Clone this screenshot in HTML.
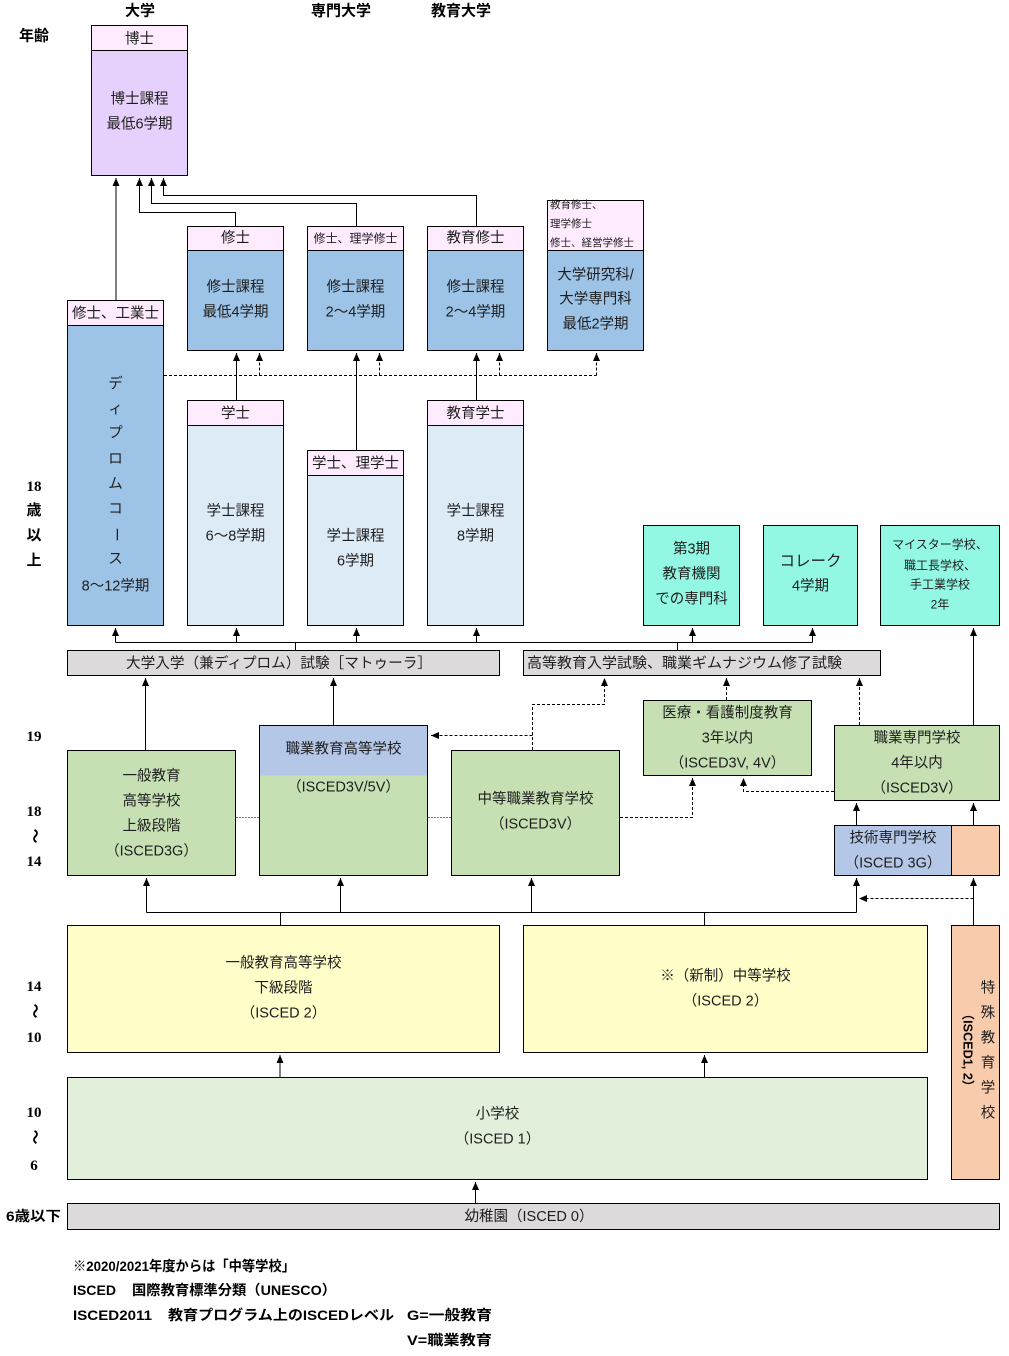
<!DOCTYPE html>
<html><head><meta charset="utf-8">
<style>
html,body{margin:0;padding:0;background:#fff;}
svg{display:block;}
text{font-family:"Liberation Sans","Noto Sans CJK JP",sans-serif;fill:#1e1e1e;}
.t{font-size:14.5px;text-anchor:middle;dominant-baseline:central;transform:translateY(1.5px);}
.tr{font-size:14.5px;text-anchor:middle;dominant-baseline:central;}
.s{font-size:12px;text-anchor:middle;dominant-baseline:central;transform:translateY(1.5px);}
.xs{font-size:10.5px;dominant-baseline:central;}
.h{font-size:15px;font-weight:bold;fill:#000;text-anchor:middle;dominant-baseline:central;font-family:"Liberation Sans","Noto Sans CJK JP",sans-serif;}
.age{font-size:15px;font-weight:bold;fill:#000;text-anchor:middle;dominant-baseline:central;font-family:"Liberation Serif","Noto Sans CJK JP",serif;}
.n{font-size:14px;font-weight:bold;fill:#000;dominant-baseline:central;}
.ln{stroke:#000;stroke-width:1;fill:none;}
.dl{stroke:#000;stroke-width:1;fill:none;stroke-dasharray:3,2;}
.gl{stroke:#777;stroke-width:1;fill:none;stroke-dasharray:2,1;}
.bx{stroke:#000;stroke-width:1;}
</style></head><body>
<svg width="1009" height="1356" viewBox="0 0 1009 1356" xmlns="http://www.w3.org/2000/svg">
<defs>
<marker id="ah" viewBox="0 0 8 7" refX="8" refY="3.5" markerWidth="8" markerHeight="7" orient="auto" markerUnits="userSpaceOnUse">
<path d="M0,0 L8,3.5 L0,7 z" fill="#000"/>
</marker>
</defs>

<!-- column headers -->
<text class="h" x="140" y="11">大学</text>
<text class="h" x="341" y="11">専門大学</text>
<text class="h" x="461" y="11">教育大学</text>
<text class="h" x="34" y="36">年齢</text>

<!-- Doctoral -->
<rect class="bx" x="91.5" y="25.5" width="96" height="150" fill="#E5D1FB"/>
<rect class="bx" x="91.5" y="25.5" width="96" height="25" fill="#FEEBFE"/>
<text class="t" x="139.5" y="38">博士</text>
<text class="t" x="139.5" y="98">博士課程</text>
<text class="t" x="139.5" y="123">最低6学期</text>

<!-- connectors to doctoral -->
<line class="ln" x1="116" y1="300" x2="116" y2="178" marker-end="url(#ah)"/>
<polyline class="ln" points="235.5,226 235.5,212.5 139.5,212.5 139.5,178" marker-end="url(#ah)"/>
<polyline class="ln" points="356.5,226 356.5,203.5 151.5,203.5 151.5,178" marker-end="url(#ah)"/>
<polyline class="ln" points="476.5,226 476.5,195.5 163.5,195.5 163.5,178" marker-end="url(#ah)"/>

<!-- Diploma -->
<rect class="bx" x="67.5" y="300.5" width="96" height="325" fill="#9DC3E6"/>
<rect class="bx" x="67.5" y="300.5" width="96" height="25" fill="#FEEBFE"/>
<text class="t" x="115.5" y="312.5">修士、工業士</text>
<text class="t" x="115.5" y="383">デ</text>
<text class="t" x="115.5" y="408">ィ</text>
<text class="t" x="115.5" y="432">プ</text>
<text class="t" x="115.5" y="458">ロ</text>
<text class="t" x="115.5" y="483">ム</text>
<text class="t" x="115.5" y="508">コ</text>
<text class="tr" x="115.5" y="534.5" transform="rotate(90 115.5 534.5)">ー</text>
<text class="t" x="115.5" y="558">ス</text>
<text class="t" x="115.5" y="585">8～12学期</text>

<!-- Master boxes -->
<rect class="bx" x="187.5" y="226.5" width="96" height="124" fill="#9DC3E6"/>
<rect class="bx" x="187.5" y="226.5" width="96" height="24" fill="#FEEBFE"/>
<text class="t" x="235.5" y="237">修士</text>
<text class="t" x="235.5" y="286">修士課程</text>
<text class="t" x="235.5" y="311">最低4学期</text>

<rect class="bx" x="307.5" y="226.5" width="96" height="124" fill="#9DC3E6"/>
<rect class="bx" x="307.5" y="226.5" width="96" height="24" fill="#FEEBFE"/>
<text class="s" x="355.5" y="237">修士、理学修士</text>
<text class="t" x="355.5" y="286">修士課程</text>
<text class="t" x="355.5" y="311">2～4学期</text>

<rect class="bx" x="427.5" y="226.5" width="96" height="124" fill="#9DC3E6"/>
<rect class="bx" x="427.5" y="226.5" width="96" height="24" fill="#FEEBFE"/>
<text class="t" x="475.5" y="237">教育修士</text>
<text class="t" x="475.5" y="286">修士課程</text>
<text class="t" x="475.5" y="311">2～4学期</text>

<rect class="bx" x="547.5" y="200.5" width="96" height="150" fill="#9DC3E6"/>
<rect class="bx" x="547.5" y="200.5" width="96" height="50" fill="#FEEBFE"/>
<text class="xs" x="550" y="205">教育修士、</text>
<text class="xs" x="550" y="224">理学修士</text>
<text class="xs" x="550" y="243">修士、経営学修士</text>
<text class="t" x="595.5" y="274">大学研究科/</text>
<text class="t" x="595.5" y="298">大学専門科</text>
<text class="t" x="595.5" y="323">最低2学期</text>

<!-- dashed from diploma -->
<line class="dl" x1="164" y1="375.5" x2="596.5" y2="375.5"/>
<line class="dl" x1="259.5" y1="375.5" x2="259.5" y2="353" marker-end="url(#ah)"/>
<line class="dl" x1="379.5" y1="375.5" x2="379.5" y2="353" marker-end="url(#ah)"/>
<line class="dl" x1="499.5" y1="375.5" x2="499.5" y2="353" marker-end="url(#ah)"/>
<line class="dl" x1="596.5" y1="375.5" x2="596.5" y2="353" marker-end="url(#ah)"/>

<!-- bachelor to master -->
<line class="ln" x1="236.5" y1="400" x2="236.5" y2="353" marker-end="url(#ah)"/>
<line class="ln" x1="356.5" y1="450" x2="356.5" y2="353" marker-end="url(#ah)"/>
<line class="ln" x1="476.5" y1="400" x2="476.5" y2="353" marker-end="url(#ah)"/>

<!-- Bachelor boxes -->
<rect class="bx" x="187.5" y="400.5" width="96" height="225" fill="#DDEBF7"/>
<rect class="bx" x="187.5" y="400.5" width="96" height="25" fill="#FEEBFE"/>
<text class="t" x="235.5" y="412.5">学士</text>
<text class="t" x="235.5" y="510">学士課程</text>
<text class="t" x="235.5" y="535">6～8学期</text>

<rect class="bx" x="307.5" y="450.5" width="96" height="175" fill="#DDEBF7"/>
<rect class="bx" x="307.5" y="450.5" width="96" height="25" fill="#FEEBFE"/>
<text class="t" x="355.5" y="462.5">学士、理学士</text>
<text class="t" x="355.5" y="535">学士課程</text>
<text class="t" x="355.5" y="560">6学期</text>

<rect class="bx" x="427.5" y="400.5" width="96" height="225" fill="#DDEBF7"/>
<rect class="bx" x="427.5" y="400.5" width="96" height="25" fill="#FEEBFE"/>
<text class="t" x="475.5" y="412.5">教育学士</text>
<text class="t" x="475.5" y="510">学士課程</text>
<text class="t" x="475.5" y="535">8学期</text>

<!-- Turquoise boxes -->
<rect class="bx" x="643.5" y="525.5" width="96" height="100" fill="#92F8E3"/>
<text class="t" x="691.5" y="548">第3期</text>
<text class="t" x="691.5" y="573">教育機関</text>
<text class="t" x="691.5" y="598">での専門科</text>

<rect class="bx" x="763.5" y="525.5" width="94" height="100" fill="#92F8E3"/>
<text class="t" x="810.5" y="560" style="font-size:15.5px">コレーク</text>
<text class="t" x="810.5" y="585">4学期</text>

<rect class="bx" x="880.5" y="525.5" width="119" height="100" fill="#92F8E3"/>
<text class="s" x="940" y="543">マイスター学校、</text>
<text class="s" x="940" y="564">職工長学校、</text>
<text class="s" x="940" y="583">手工業学校</text>
<text class="s" x="940" y="603">2年</text>

<!-- exam distribution line -->
<line class="ln" x1="115.5" y1="642.5" x2="812.5" y2="642.5"/>
<line class="ln" x1="115.5" y1="642.5" x2="115.5" y2="628" marker-end="url(#ah)"/>
<line class="ln" x1="236.5" y1="642.5" x2="236.5" y2="628" marker-end="url(#ah)"/>
<line class="ln" x1="356.5" y1="642.5" x2="356.5" y2="628" marker-end="url(#ah)"/>
<line class="ln" x1="476.5" y1="642.5" x2="476.5" y2="628" marker-end="url(#ah)"/>
<line class="ln" x1="692.5" y1="642.5" x2="692.5" y2="628" marker-end="url(#ah)"/>
<line class="ln" x1="812.5" y1="642.5" x2="812.5" y2="628" marker-end="url(#ah)"/>
<line class="ln" x1="295.5" y1="642.5" x2="295.5" y2="650"/>
<line class="ln" x1="677.5" y1="642.5" x2="677.5" y2="650"/>

<!-- Exams -->
<rect class="bx" x="67.5" y="650.5" width="432" height="25" fill="#DCDADA"/>
<text x="126" y="664" style="font-size:14.5px;dominant-baseline:central" textLength="306" lengthAdjust="spacingAndGlyphs">大学入学（兼ディプロム）試験［マトゥーラ］</text>
<rect class="bx" x="523.5" y="650.5" width="357" height="25" fill="#DCDADA"/>
<text x="527" y="664" style="font-size:14.5px;dominant-baseline:central" textLength="315" lengthAdjust="spacingAndGlyphs">高等教育入学試験、職業ギムナジウム修了試験</text>

<!-- arrows to exams -->
<line class="ln" x1="145.5" y1="750" x2="145.5" y2="678" marker-end="url(#ah)"/>
<line class="ln" x1="333.5" y1="725" x2="333.5" y2="678" marker-end="url(#ah)"/>
<polyline class="dl" points="532.5,750 532.5,704.5 604.5,704.5 604.5,678" marker-end="url(#ah)"/>
<line class="dl" x1="532.5" y1="735.5" x2="431" y2="735.5" marker-end="url(#ah)"/>
<line class="dl" x1="726.5" y1="700" x2="726.5" y2="678" marker-end="url(#ah)"/>
<line class="dl" x1="859.5" y1="725" x2="859.5" y2="678" marker-end="url(#ah)"/>
<line class="ln" x1="973.5" y1="725" x2="973.5" y2="628" marker-end="url(#ah)"/>

<!-- Upper secondary -->
<rect class="bx" x="643.5" y="700.5" width="168" height="75" fill="#C6E0B4"/>
<text class="t" x="727.5" y="712">医療・看護制度教育</text>
<text class="t" x="727.5" y="737">3年以内</text>
<text class="t" x="727.5" y="762">（ISCED3V, 4V）</text>

<rect class="bx" x="834.5" y="725.5" width="165" height="75" fill="#C6E0B4"/>
<text class="t" x="917" y="737">職業専門学校</text>
<text class="t" x="917" y="762">4年以内</text>
<text class="t" x="917" y="787">（ISCED3V）</text>

<rect class="bx" x="67.5" y="750.5" width="168" height="125" fill="#C6E0B4"/>
<text class="t" x="151.5" y="775">一般教育</text>
<text class="t" x="151.5" y="800">高等学校</text>
<text class="t" x="151.5" y="825">上級段階</text>
<text class="t" x="151.5" y="850">（ISCED3G）</text>

<rect x="259.5" y="725.5" width="168" height="150" fill="#C6E0B4"/>
<rect x="259.5" y="725.5" width="168" height="50" fill="#B4C7E7"/>
<rect class="bx" x="259.5" y="725.5" width="168" height="150" fill="none"/>
<text class="t" x="343.5" y="748">職業教育高等学校</text>
<text class="t" x="343.5" y="786">（ISCED3V/5V）</text>

<rect class="bx" x="451.5" y="750.5" width="168" height="125" fill="#C6E0B4"/>
<text class="t" x="535.5" y="798">中等職業教育学校</text>
<text class="t" x="535.5" y="823">（ISCED3V）</text>

<!-- dotted links between boxes -->
<line class="gl" x1="236" y1="817.5" x2="259" y2="817.5"/>
<line class="gl" x1="428" y1="817.5" x2="451" y2="817.5"/>
<polyline class="dl" points="620,817.5 692.5,817.5 692.5,778" marker-end="url(#ah)"/>
<polyline class="dl" points="834,791.5 743.5,791.5 743.5,778" marker-end="url(#ah)"/>

<!-- Technical school -->
<rect class="bx" x="834.5" y="825.5" width="117" height="50" fill="#B4C7E7"/>
<rect class="bx" x="951.5" y="825.5" width="48" height="50" fill="#F8CBAD"/>
<text class="t" x="893" y="837">技術専門学校</text>
<text class="t" x="893" y="862">（ISCED 3G）</text>
<line class="ln" x1="856.5" y1="825" x2="856.5" y2="803" marker-end="url(#ah)"/>
<line class="ln" x1="973.5" y1="825" x2="973.5" y2="803" marker-end="url(#ah)"/>

<!-- lower distribution line -->
<line class="ln" x1="146.5" y1="912.5" x2="856.5" y2="912.5"/>
<line class="ln" x1="146.5" y1="912.5" x2="146.5" y2="878" marker-end="url(#ah)"/>
<line class="ln" x1="340.5" y1="912.5" x2="340.5" y2="878" marker-end="url(#ah)"/>
<line class="ln" x1="531.5" y1="912.5" x2="531.5" y2="878" marker-end="url(#ah)"/>
<line class="ln" x1="856.5" y1="912.5" x2="856.5" y2="878" marker-end="url(#ah)"/>
<line class="ln" x1="280.5" y1="912.5" x2="280.5" y2="925"/>
<line class="ln" x1="704.5" y1="912.5" x2="704.5" y2="925"/>
<line class="ln" x1="973.5" y1="925" x2="973.5" y2="878" marker-end="url(#ah)"/>
<line class="dl" x1="973.5" y1="898.5" x2="859" y2="898.5" marker-end="url(#ah)"/>

<!-- Lower secondary -->
<rect class="bx" x="67.5" y="925.5" width="432" height="127" fill="#FFFDC8"/>
<text class="t" x="283.5" y="962">一般教育高等学校</text>
<text class="t" x="283.5" y="987">下級段階</text>
<text class="t" x="283.5" y="1012">（ISCED 2）</text>

<rect class="bx" x="523.5" y="925.5" width="404" height="127" fill="#FFFDC8"/>
<text class="t" x="725.5" y="975">※（新制）中等学校</text>
<text class="t" x="725.5" y="1000">（ISCED 2）</text>

<!-- Special school -->
<rect class="bx" x="951.5" y="925.5" width="48" height="254" fill="#F8CBAD"/>
<text class="t" x="988" y="987">特</text>
<text class="t" x="988" y="1012">殊</text>
<text class="t" x="988" y="1037">教</text>
<text class="t" x="988" y="1062">育</text>
<text class="t" x="988" y="1087">学</text>
<text class="t" x="988" y="1112">校</text>
<text x="968" y="1050" transform="rotate(90 968 1050)" style="font-size:13px;font-weight:bold;fill:#000;text-anchor:middle;dominant-baseline:central" textLength="85" lengthAdjust="spacingAndGlyphs">（ISCED1, 2）</text>

<!-- Primary -->
<line class="ln" x1="280" y1="1077" x2="280" y2="1055" marker-end="url(#ah)"/>
<line class="ln" x1="704.5" y1="1077" x2="704.5" y2="1055" marker-end="url(#ah)"/>
<rect class="bx" x="67.5" y="1077.5" width="860" height="102" fill="#E2EFDA"/>
<text class="t" x="497.5" y="1113">小学校</text>
<text class="t" x="497.5" y="1138">（ISCED 1）</text>

<!-- Kindergarten -->
<line class="ln" x1="475.5" y1="1203" x2="475.5" y2="1182" marker-end="url(#ah)"/>
<rect class="bx" x="67.5" y="1203.5" width="932" height="26" fill="#DCDADA"/>
<text class="t" x="529" y="1215.5">幼稚園（ISCED 0）</text>

<!-- Age labels -->
<text class="age" x="34" y="487">18</text>
<text class="age" x="34" y="511">歳</text>
<text class="age" x="34" y="536">以</text>
<text class="age" x="34" y="561">上</text>

<text class="age" x="34" y="737">19</text>
<text class="age" x="34" y="812">18</text>
<text class="age" x="34" y="836" transform="rotate(90 34 836)">～</text>
<text class="age" x="34" y="862">14</text>

<text class="age" x="34" y="987">14</text>
<text class="age" x="34" y="1011" transform="rotate(90 34 1011)">～</text>
<text class="age" x="34" y="1038">10</text>

<text class="age" x="34" y="1113">10</text>
<text class="age" x="34" y="1137" transform="rotate(90 34 1137)">～</text>
<text class="age" x="34" y="1166">6</text>

<text class="n" x="6" y="1216" textLength="55" lengthAdjust="spacingAndGlyphs">6歳以下</text>

<!-- Notes -->
<text class="n" x="73" y="1266" textLength="222" lengthAdjust="spacingAndGlyphs">※2020/2021年度からは「中等学校」</text>
<text class="n" x="73" y="1290" textLength="43" lengthAdjust="spacingAndGlyphs">ISCED</text>
<text class="n" x="132" y="1290" textLength="204" lengthAdjust="spacingAndGlyphs">国際教育標準分類（UNESCO）</text>
<text class="n" x="73" y="1315" textLength="79" lengthAdjust="spacingAndGlyphs">ISCED2011</text>
<text class="n" x="168" y="1315" textLength="226" lengthAdjust="spacingAndGlyphs">教育プログラム上のISCEDレベル</text>
<text class="n" x="407" y="1315" textLength="85" lengthAdjust="spacingAndGlyphs">G=一般教育</text>
<text class="n" x="407" y="1340" textLength="85" lengthAdjust="spacingAndGlyphs">V=職業教育</text>
</svg>
</body></html>
